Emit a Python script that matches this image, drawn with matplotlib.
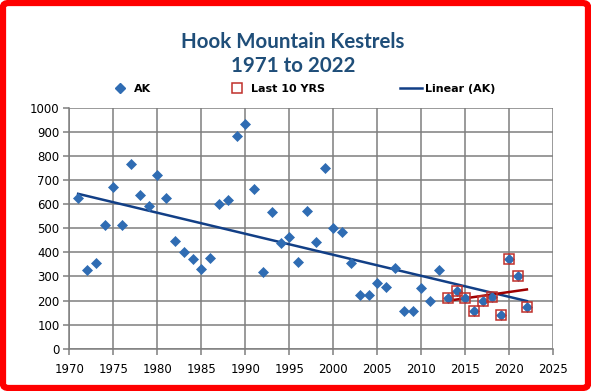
import numpy as np
import matplotlib
matplotlib.use("Agg")
import matplotlib.pyplot as plt
from matplotlib.lines import Line2D
from matplotlib.patches import FancyBboxPatch

years = list(range(1971, 2023))
ak = [624, 326, 357, 515, 672, 513, 766, 636, 592, 719,
      625, 446, 403, 372, 332, 378, 602, 616, 884, 932,
      664, 320, 566, 439, 463, 360, 571, 443, 750, 502,
      486, 354, 223, 221, 274, 257, 336, 156, 156, 250,
      199, 325, 212, 241, 209, 158, 199, 216, 140, 372,
      303, 173]
last10_years = years[-10:]
last10 = ak[-10:]

title = "Hook Mountain Kestrels"
subtitle = "1971 to 2022"
x_ticks = [1970, 1975, 1980, 1985, 1990, 1995, 2000, 2005, 2010, 2015, 2020, 2025]
y_ticks = [0, 100, 200, 300, 400, 500, 600, 700, 800, 900, 1000]

W, H = 591, 391
fig = plt.figure(figsize=(W / 100, H / 100), dpi=100)
ax = fig.add_axes([69.3 / W, 1 - 348.7 / H, (553.3 - 69.3) / W, (348.7 - 107.7) / H])

grid_c = "#7f7f7f"
ax.set_xlim(1970, 2025)
ax.set_ylim(0, 1000)
ax.set_xticks(x_ticks)
ax.set_yticks(y_ticks)
ax.grid(True, color=grid_c, lw=1.1)
ax.set_axisbelow(True)
for s in ["top", "right"]:
    ax.spines[s].set_visible(False)
for s in ["left", "bottom"]:
    ax.spines[s].set_color(grid_c)
    ax.spines[s].set_linewidth(1.1)
ax.tick_params(direction="out", length=4, width=1.1, color=grid_c,
               labelsize=8.5, labelcolor="black", pad=3)
for lbl in ax.get_xticklabels():
    lbl.set_y(-0.02)

blue = "#2f6cb3"
trend_c = "#123f86"
red = "#c0302b"
redline = "#a00000"

# trend lines from data
yrs = np.array(years, dtype=float)
p = np.polyfit(yrs, ak, 1)
ax.plot([years[0], years[-1]], np.polyval(p, [years[0], years[-1]]), color=trend_c, lw=1.8, zorder=3)
p2 = np.polyfit(np.array(last10_years, dtype=float), last10, 1)
ax.plot([last10_years[0], last10_years[-1]], np.polyval(p2, [last10_years[0], last10_years[-1]]),
        color=redline, lw=1.8, zorder=3)

ax.plot(years, ak, ls="none", marker="D", ms=5.6, color=blue, mec=blue, mew=0.5, zorder=4)
ax.plot(last10_years, last10, ls="none", marker="s", ms=7, mfc="none", mec=red, mew=1.1, zorder=5)

fig.text(293 / W, 1 - 42 / H, title, ha="center", va="center", fontsize=14.8,
         fontweight="bold", color="#1f4e79", family="Lato")
fig.text(293 / W, 1 - 66 / H, subtitle, ha="center", va="center", fontsize=14.8,
         fontweight="bold", color="#1f4e79", family="Lato")

handles = [
    Line2D([], [], ls="none", marker="D", ms=5.6, color=blue),
    Line2D([], [], ls="none", marker="s", ms=7, mfc="none", mec=red, mew=1.1),
    Line2D([], [], color=trend_c, lw=1.8),
]
labels = ["AK", "Last 10 YRS", "Linear (AK)"]
leg = fig.legend(handles, labels, loc="center", bbox_to_anchor=(302 / W, 1 - 89 / H), ncol=3,
                 frameon=False, prop={"weight": "bold", "size": 8},
                 handlelength=2, handletextpad=0.3, columnspacing=6.7, borderaxespad=0)

border = FancyBboxPatch((3 / W, 3 / H), 1 - 6 / W, 1 - 6 / H,
                        boxstyle="round,pad=0,rounding_size=0.01",
                        transform=fig.transFigure, fill=False, ec="#ff0000", lw=4.5)
fig.patches.append(border)

fig.savefig("out.png", dpi=100)
